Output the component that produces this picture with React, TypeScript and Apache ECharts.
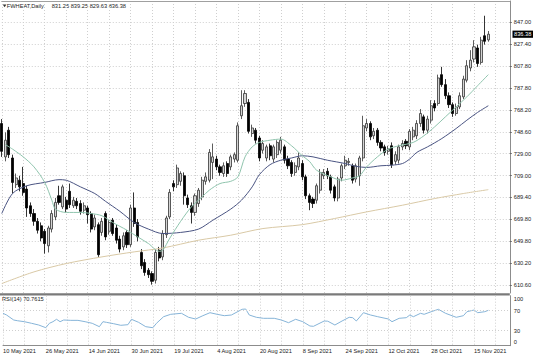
import React, { useEffect, useRef } from 'react';
import * as echarts from 'echarts';

const FONT = '"Liberation Sans", Arial, sans-serif';
const FS = 5.7;

// trading days shown on the time scale (May 2021 - Nov 2021)
const tradingDays: [string, number[]][] = [
  ['May', [10, 11, 12, 13, 14, 17, 18, 19, 20, 21, 24, 25, 26, 27, 28]],
  ['Jun', [1, 2, 3, 4, 7, 8, 9, 10, 11, 14, 15, 16, 17, 18, 21, 22, 23, 24, 25, 28, 29, 30]],
  ['Jul', [1, 2, 6, 7, 8, 9, 12, 13, 14, 15, 16, 19, 20, 21, 22, 23, 26, 27, 28, 29, 30]],
  ['Aug', [2, 3, 4, 5, 6, 9, 10, 11, 12, 13, 16, 17, 18, 19, 20, 23, 24, 25, 26, 27, 30, 31]],
  ['Sep', [1, 2, 3, 7, 8, 9, 10, 13, 14, 15, 16, 17, 20, 21, 22, 23, 24, 27, 28, 29, 30]],
  ['Oct', [1, 4, 5, 6, 7, 8, 11, 12, 13, 14, 15, 18, 19, 20, 21, 22, 25, 26, 27, 28, 29]],
  ['Nov', [1, 2, 3, 4, 5, 8, 9, 10, 11, 12, 15, 16, 17, 18, 19, 22, 23, 24, 26, 29, 30]],
];
const categories: string[] = tradingDays.flatMap(([m, ds]) => ds.map((d) => `${d} ${m} 2021`));

// daily bars: [open, high, low, close]
const bars: number[][] = [
  [756, 760, 726, 731], [726, 748, 722, 741], [750, 753, 725, 728], [725, 728, 693, 703],
  [701, 711, 698, 707], [705, 709, 695, 699], [702, 717, 691, 694], [697, 700, 672, 680],
  [682, 685, 672, 675], [675, 679, 664, 668], [668, 671, 657, 660], [664, 667, 650, 653],
  [659, 661, 639, 648], [646, 664, 640, 662], [661, 678, 658, 675], [672, 689, 669, 685],
  [691, 700, 683, 685], [681, 701, 679, 699], [687, 690, 676, 679], [695, 702, 680, 683],
  [682, 690, 680, 687], [686, 689, 679, 682], [684, 687, 674, 677], [678, 685, 675, 682],
  [680, 682, 666, 674], [675, 677, 658, 661], [663, 674, 660, 671], [665, 667, 636, 638],
  [658, 671, 655, 668], [675, 677, 651, 654], [659, 669, 656, 667], [669, 671, 655, 657],
  [662, 665, 648, 651], [652, 655, 640, 643], [645, 658, 642, 655], [658, 660, 644, 647],
  [647, 683, 645, 680], [680, 694, 663, 666], [667, 670, 650, 654], [640, 643, 625, 628],
  [631, 634, 619, 622], [624, 626, 617, 620], [621, 623, 611, 614], [615, 643, 612, 640],
  [642, 645, 632, 635], [636, 660, 633, 657], [656, 673, 653, 671], [672, 697, 670, 694],
  [702, 705, 695, 699], [701, 719, 698, 716], [704, 713, 700, 711], [709, 712, 683, 691],
  [689, 692, 680, 683], [682, 685, 666, 676], [676, 693, 673, 691], [684, 698, 681, 696],
  [690, 708, 687, 705], [704, 712, 701, 708], [705, 733, 703, 730], [721, 738, 706, 726],
  [724, 727, 714, 717], [717, 719, 709, 712], [711, 721, 708, 718], [720, 722, 708, 711],
  [717, 728, 714, 726], [724, 730, 721, 728], [723, 757, 721, 754], [763, 786, 760, 772],
  [774, 786, 771, 783], [775, 778, 747, 749], [747, 755, 744, 752], [750, 752, 738, 741],
  [743, 745, 722, 725], [732, 741, 729, 738], [725, 737, 722, 735], [736, 738, 723, 727],
  [724, 737, 721, 735], [728, 741, 725, 739], [732, 744, 729, 741], [735, 737, 720, 723],
  [724, 727, 715, 718], [721, 723, 708, 711], [712, 721, 709, 718], [717, 730, 714, 725],
  [720, 723, 705, 708], [708, 710, 688, 691], [691, 693, 678, 685], [688, 690, 680, 684],
  [687, 702, 684, 700], [696, 715, 693, 712], [709, 715, 706, 712], [713, 716, 706, 709],
  [708, 710, 693, 696], [699, 701, 686, 689], [689, 708, 686, 706], [707, 720, 704, 718],
  [718, 727, 715, 723], [721, 725, 718, 722], [718, 720, 702, 705], [706, 720, 703, 718],
  [709, 727, 700, 725], [725, 763, 722, 754], [752, 760, 749, 756], [756, 758, 741, 744],
  [745, 752, 742, 749], [750, 752, 736, 739], [739, 741, 731, 734], [735, 737, 727, 730],
  [731, 736, 728, 733], [736, 739, 716, 719], [722, 731, 719, 728], [723, 737, 720, 735],
  [735, 741, 732, 738], [740, 742, 733, 736], [735, 751, 732, 749], [744, 753, 741, 750],
  [745, 759, 742, 756], [756, 769, 753, 765], [762, 764, 747, 750], [750, 763, 747, 760],
  [759, 777, 756, 772], [774, 777, 767, 770], [774, 800, 772, 797], [800, 807, 789, 791],
  [791, 796, 778, 781], [781, 784, 770, 773], [773, 775, 762, 765], [765, 774, 763, 771],
  [771, 784, 769, 781], [780, 799, 778, 796], [795, 813, 793, 808], [806, 822, 803, 813],
  [814, 831, 811, 825], [824, 827, 807, 810], [811, 834, 809, 831], [835, 853, 827, 830],
  [831.25, 839.25, 829.63, 836.38],
];

// moving averages: [bar index, price]
const maFast: number[][] = [
  [1, 737], [3, 733], [6, 726], [9, 717], [12, 703], [14, 687], [15, 679], [18, 676], [22, 676],
  [25, 675], [28, 673], [31, 667], [35, 660], [38, 654], [41, 648], [44, 641], [45, 642], [47, 653],
  [50, 668], [53, 681], [56, 690], [58, 696], [61, 702], [64, 704], [66, 708], [68, 726], [70, 735],
  [72, 739], [75, 741], [78, 742], [81, 736], [84, 727], [86, 722], [88, 714], [92, 708], [95, 705],
  [98, 707], [100, 709], [102, 717], [105, 726], [108, 733], [111, 736], [115, 739], [118, 745],
  [121, 753], [124, 762], [127, 771], [130, 780], [133, 790], [136, 800],
];
const maMid: number[][] = [
  [0, 675], [3, 693], [7, 700], [12, 703], [16, 705.5], [18, 705], [22, 699], [26, 693], [29, 686],
  [33, 677], [37, 667], [41, 661], [45, 657], [50, 658], [55, 661], [59, 669], [64, 679], [67, 687],
  [70, 699], [72, 710], [75, 719], [78, 723], [81, 725], [84, 727], [87, 726], [91, 723], [96, 720],
  [99, 717.5], [102, 716.5], [106, 718], [109, 718.5], [112, 720], [114, 724], [116, 730], [119, 735],
  [123, 742.5], [127, 751.5], [130, 759], [133, 766], [136, 772],
];
const maSlow: number[][] = [
  [0, 612], [9, 622.5], [18, 630], [28, 636], [37, 640.5], [45, 644], [55, 651], [64, 655.5],
  [73, 661.5], [84, 665], [93, 670.5], [102, 676.5], [112, 682.5], [121, 688.5], [129, 693], [136, 696.5],
];

// RSI(14): [bar index, value]
const rsi: number[][] = [
  [0, 64.8], [1, 61.4], [3, 51.4], [4, 50], [6, 48], [8, 44.8], [10, 41.4], [12, 36], [13, 44.8],
  [14, 48], [15, 52.8], [16, 48], [17, 51.4], [19, 50.7], [21, 50.7], [23, 48], [25, 44.8], [27, 38],
  [28, 48], [29, 46.7], [31, 44], [33, 40.8], [35, 42], [36, 52.8], [38, 46.7], [40, 38], [42, 36],
  [43, 44.8], [45, 58], [47, 62.8], [50, 64.8], [52, 56.8], [54, 53.4], [56, 60], [58, 66], [60, 62.8],
  [62, 60], [64, 61.4], [67, 72.8], [68, 73.4], [69, 61.4], [71, 56.8], [73, 54.8], [74, 54.8],
  [76, 54.8], [78, 51.4], [80, 46], [82, 52.8], [84, 48], [86, 39.4], [87, 38.8], [90, 49.4], [91, 49],
  [93, 41.4], [95, 49.4], [97, 56.8], [98, 56], [99, 49.4], [101, 66], [103, 61.4], [105, 58],
  [108, 53.4], [109, 48], [111, 54.8], [113, 56], [114, 61.4], [115, 58], [117, 64.8], [118, 62.8],
  [120, 68], [122, 72.8], [124, 64.8], [127, 56.8], [129, 60], [130, 68], [132, 71.4], [133, 66],
  [135, 68], [136, 70.7615],
];
const rsiLevels = [30, 70];
const rsiTickLabels = [0, 30, 70, 100];

const yTickLabels = [
  '610.60', '630.20', '649.80', '669.80', '689.40', '709.00', '729.00',
  '748.60', '768.20', '787.80', '807.80', '827.40', '847.00',
];
const TICK0 = 610.7;
const TICK_STEP = 19.7;

const GRID_LEFT = 1.78;
const GRID_W = 508;
const DOT = [1, 2];
const GRID_COLOR = '#cfcfcf';
const AXIS_COLOR = '#8c8c8c';

export default function App() {
  const ref = useRef<HTMLDivElement>(null);
  useEffect(() => {
    document.body.style.margin = '0';
    const chart = echarts.init(ref.current!, null, { renderer: 'svg' });
    const last = bars[bars.length - 1];
    const vSplit = {
      show: true,
      interval: (i: number) => i % 6 === 0,
      lineStyle: { color: GRID_COLOR, type: DOT, width: 1 },
    };
    const option: any = {
      animation: false,
      backgroundColor: '#ffffff',
      grid: [
        { left: GRID_LEFT, width: GRID_W, top: 1, height: 292 },
        { left: GRID_LEFT, width: GRID_W, top: 1, height: 284 },
        { left: GRID_LEFT, width: GRID_W, top: 295.7, height: 50 },
      ],
      xAxis: [
        {
          gridIndex: 0, type: 'category', data: categories, boundaryGap: false, position: 'top',
          axisLine: { show: true, lineStyle: { color: '#a0a0a0', width: 1 } },
          axisTick: { show: false }, axisLabel: { show: false }, splitLine: vSplit,
        },
        { gridIndex: 1, type: 'category', data: categories, boundaryGap: false, show: false },
        {
          gridIndex: 2, type: 'category', data: categories, boundaryGap: false, position: 'bottom',
          axisLine: { show: true, lineStyle: { color: AXIS_COLOR, width: 1 } },
          axisTick: { show: false },
          axisLabel: {
            show: true, interval: (i: number) => i % 12 === 0 && i <= 132, align: 'left', margin: 2.5,
            fontSize: FS, fontFamily: FONT, color: '#222',
          },
          splitLine: vSplit,
        },
      ],
      yAxis: [
        {
          gridIndex: 0, type: 'value', min: 603.5, max: 866.26, position: 'right',
          axisLine: { show: true, lineStyle: { color: AXIS_COLOR, width: 1 } },
          axisTick: { show: false }, axisLabel: { show: false }, splitLine: { show: false },
        },
        {
          gridIndex: 1, type: 'value', min: TICK0, max: 866.26, interval: TICK_STEP, position: 'right',
          axisLine: { show: false },
          axisTick: { show: true, length: 2, lineStyle: { color: '#666' } },
          axisLabel: {
            show: true, showMaxLabel: false, margin: 4, fontSize: FS, fontFamily: FONT, color: '#222',
            formatter: (v: number) => yTickLabels[Math.round((v - TICK0) / TICK_STEP)] ?? '',
          },
          splitLine: { show: true, lineStyle: { color: GRID_COLOR, type: DOT, width: 1 } },
        },
        {
          gridIndex: 2, type: 'value', min: 0, max: 100, interval: 10, position: 'right',
          axisLine: { show: true, lineStyle: { color: AXIS_COLOR, width: 1 } },
          axisTick: { show: false },
          axisLabel: {
            show: true, margin: 4, fontSize: FS, fontFamily: FONT, color: '#222',
            formatter: (v: number) => {
              if (!rsiTickLabels.includes(v)) return '';
              if (v === 100) return '{t|100}';
              if (v === 0) return '{b|0}';
              return String(v);
            },
            rich: {
              t: { fontSize: FS, fontFamily: FONT, color: '#222', padding: [6.5, 0, 0, 0] },
              b: { fontSize: FS, fontFamily: FONT, color: '#222', padding: [0, 0, 7, 0] },
            },
          },
          splitLine: { show: false },
        },
      ],
      series: [
        {
          type: 'candlestick', xAxisIndex: 0, yAxisIndex: 0, barWidth: 2.6,
          data: bars.map(([o, h, l, c]) => [o, c, l, h]),
          itemStyle: {
            color: '#d4d4d4', color0: '#000000', borderColor: '#333333', borderColor0: '#000000',
            borderWidth: 0.8,
          },
        },
        {
          type: 'line', xAxisIndex: 0, yAxisIndex: 0, data: maSlow, showSymbol: false, smooth: 0.3,
          lineStyle: { color: '#d9c9a6', width: 1 }, silent: true,
        },
        {
          type: 'line', xAxisIndex: 0, yAxisIndex: 0, data: maMid, showSymbol: false, smooth: 0.3,
          lineStyle: { color: '#4a5482', width: 1 }, silent: true,
        },
        {
          type: 'line', xAxisIndex: 0, yAxisIndex: 0, data: maFast, showSymbol: false, smooth: 0.3,
          lineStyle: { color: '#8fc4ad', width: 1 }, silent: true,
        },
        {
          type: 'line', xAxisIndex: 2, yAxisIndex: 2, data: rsi, showSymbol: false,
          lineStyle: { color: '#86b4d8', width: 1 }, silent: true,
          markLine: {
            silent: true, symbol: 'none', label: { show: false },
            lineStyle: { color: GRID_COLOR, type: DOT, width: 1 },
            data: rsiLevels.map((v) => ({ yAxis: v })),
          },
        },
      ],
      graphic: [
        { id: 'sep', type: 'rect', shape: { x: 0, y: 293.3, width: 509.8, height: 2.2 }, style: { fill: '#7a7a7a' } },
        { id: 'tri', type: 'polygon', shape: { points: [[2.8, 4.6], [6.4, 4.6], [4.6, 7.2]] }, style: { fill: '#333' } },
        {
          id: 'ttl', type: 'text', x: 6.7, y: 6,
          style: { text: 'FWHEAT,Daily', font: `${FS}px ${FONT}`, fill: '#222', verticalAlign: 'middle' },
        },
        {
          id: 'ohlc', type: 'text', x: 51.7, y: 6,
          style: {
            text: last.map((v) => v.toFixed(2)).join(' '),
            font: `${FS}px ${FONT}`, fill: '#222', verticalAlign: 'middle',
          },
        },
        {
          id: 'rsiTitle', type: 'text', x: 2, y: 299.3,
          style: {
            text: `RSI(14) ${rsi[rsi.length - 1][1].toFixed(4)}`,
            font: `${FS}px ${FONT}`, fill: '#222', verticalAlign: 'middle',
          },
        },
      ],
    };
    chart.setOption(option);
    const p = chart.convertToPixel({ xAxisIndex: 0, yAxisIndex: 0 }, [bars.length - 1, last[3]]) as number[];
    chart.setOption({
      graphic: [
        { id: 'pxbox', type: 'rect', shape: { x: 512.5, y: p[1] - 3.6, width: 20.5, height: 7.2 }, style: { fill: '#000' } },
        {
          id: 'pxtxt', type: 'text', x: 514, y: p[1],
          style: { text: last[3].toFixed(2), font: `${FS}px ${FONT}`, fill: '#fff', verticalAlign: 'middle' },
        },
      ],
    });
    return () => chart.dispose();
  }, []);
  return <div ref={ref} style={{ width: 536, height: 357 }} />;
}
